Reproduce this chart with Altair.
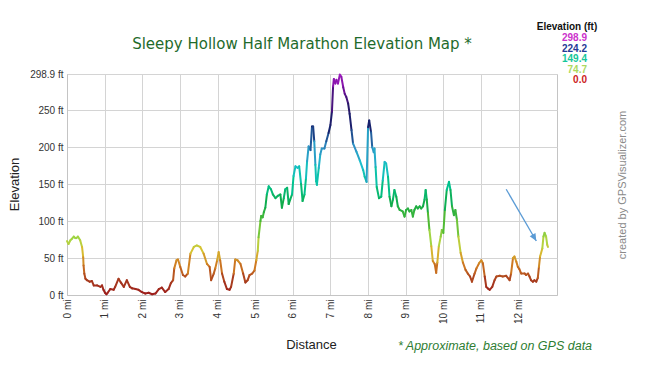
import altair as alt
import pandas as pd

miles = [0.00, 0.04, 0.09, 0.13, 0.18, 0.22, 0.25, 0.29, 0.35, 0.40, 0.43, 0.44, 0.46, 0.49, 0.53,
         0.60, 0.66, 0.71, 0.80, 0.89, 0.93, 0.97, 1.01, 1.05, 1.08, 1.15, 1.24, 1.28, 1.37, 1.43,
         1.51, 1.59, 1.67, 1.73, 1.82, 1.90, 1.99, 2.08, 2.17, 2.26, 2.35, 2.44, 2.52, 2.61, 2.70,
         2.76, 2.82, 2.85, 2.91, 2.95, 3.01, 3.08, 3.14, 3.21, 3.28, 3.37, 3.45, 3.54, 3.63, 3.72,
         3.79, 3.83, 3.90, 3.94, 3.99, 4.03, 4.07, 4.12, 4.18, 4.25, 4.32, 4.36, 4.43, 4.47, 4.53,
         4.61, 4.68, 4.74, 4.80, 4.85, 4.92, 4.98, 5.03, 5.07, 5.09, 5.14, 5.16, 5.20, 5.23, 5.27,
         5.31, 5.36, 5.42, 5.47, 5.54, 5.60, 5.67, 5.71, 5.76, 5.80, 5.85, 5.89, 5.93, 5.98, 6.02,
         6.07, 6.13, 6.17, 6.22, 6.26, 6.31, 6.35, 6.38, 6.42, 6.47, 6.51, 6.54, 6.57, 6.60, 6.62,
         6.64, 6.69, 6.73, 6.77, 6.84, 6.89, 6.95, 7.00, 7.04, 7.07, 7.09, 7.13, 7.16, 7.20, 7.25,
         7.29, 7.34, 7.38, 7.42, 7.47, 7.51, 7.56, 7.60, 7.69, 7.78, 7.87, 7.91, 7.96, 8.00, 8.03,
         8.08, 8.11, 8.15, 8.17, 8.20, 8.23, 8.29, 8.35, 8.39, 8.44, 8.48, 8.53, 8.57, 8.62, 8.66,
         8.70, 8.75, 8.79, 8.84, 8.92, 8.97, 9.01, 9.06, 9.10, 9.15, 9.19, 9.23, 9.28, 9.32, 9.37,
         9.41, 9.46, 9.50, 9.53, 9.56, 9.59, 9.63, 9.68, 9.72, 9.77, 9.81, 9.84, 9.88, 9.93, 9.96,
         10.00, 10.04, 10.09, 10.15, 10.19, 10.23, 10.28, 10.32, 10.36, 10.40, 10.46, 10.52, 10.59,
         10.65, 10.71, 10.76, 10.83, 10.88, 10.95, 11.01, 11.05, 11.10, 11.14, 11.18, 11.23, 11.30,
         11.36, 11.41, 11.50, 11.58, 11.67, 11.76, 11.80, 11.85, 11.89, 11.94, 11.98, 12.02, 12.07,
         12.16, 12.20, 12.25, 12.29, 12.33, 12.38, 12.42, 12.47, 12.51, 12.54, 12.57, 12.63, 12.66,
         12.69, 12.73, 12.76, 12.78]
elevation = [73, 69, 74, 76, 79, 77, 77, 79, 74, 65, 51, 40, 29, 22, 20,
             18, 19, 13, 13, 11, 13, 7, 3, 1, 3, 8, 7, 11, 22, 17,
             11, 20, 11, 9, 8, 7, 4, 2, 3, 1, 2, 8, 10, 4, 8,
             16, 20, 36, 47, 48, 38, 27, 25, 29, 56, 65, 67, 65, 56, 42,
             38, 20, 29, 36, 47, 58, 47, 29, 18, 8, 7, 11, 29, 48, 47,
             42, 29, 17, 20, 27, 29, 33, 47, 60, 78, 100, 107, 105, 112, 118,
             136, 147, 143, 136, 131, 134, 136, 118, 131, 143, 145, 123, 129, 136, 161,
             174, 172, 174, 150, 127, 136, 158, 181, 201, 196, 228, 228, 208, 176, 154,
             149, 172, 190, 198, 198, 208, 219, 230, 248, 282, 292, 286, 291, 286, 298,
             295, 281, 272, 268, 259, 245, 223, 205, 194, 182, 169, 160, 153, 227, 236,
             220, 200, 193, 198, 173, 146, 131, 133, 155, 180, 178, 160, 133, 120, 129,
             142, 133, 120, 115, 113, 106, 115, 117, 113, 115, 106, 115, 120, 117, 120,
             117, 120, 129, 142, 129, 111, 88, 66, 46, 42, 30, 44, 66, 79, 88,
             84, 115, 142, 153, 142, 120, 108, 115, 102, 79, 57, 44, 34,
             29, 25, 18, 29, 36, 43, 47, 43, 25, 11, 9, 7, 11,
             20, 25, 26, 25, 26, 20, 29, 50, 52, 45, 38, 35, 29,
             29, 27, 29, 25, 20, 18, 20, 18, 23, 38, 52, 63, 79,
             84, 79, 68, 65]

x_ticks = list(range(0, 13))
y_ticks = [0, 50, 100, 150, 200, 250, 298.9]
legend_labels = ["298.9", "224.2", "149.4", "74.7", "0.0"]
arrow_x = [11.67, 12.47]
arrow_y = [143, 73]

# ---- styles ----
color_stops = [0, 20, 40, 60, 74.7, 100, 125, 149.4, 175, 200, 224.2, 255, 280, 298.9]
color_range = ["#9c1c1c", "#a83c1e", "#cf7a22", "#d8c232", "#a9d744", "#4fba34", "#10ab4a",
               "#00c493", "#1cbfcc", "#2f8fc4", "#14236e", "#2a1868", "#7a0fa0", "#a21fc2"]
legend_colors = ["#cc33cc", "#263a96", "#14c79a", "#acd95e", "#cc2222"]
legend_rows = [-36, -25, -15, -4, 6]

seg = pd.DataFrame({"mi": miles, "ft": elevation})
seg["mi2"] = seg["mi"].shift(-1)
seg["ft2"] = seg["ft"].shift(-1)
seg = seg.dropna()
seg["mid"] = (seg["ft"] + seg["ft2"]) / 2

xscale = alt.Scale(domain=[0, 13.02], nice=False, zero=False)
yscale = alt.Scale(domain=[0, 298.9], nice=False)

x_axis = alt.Axis(values=x_ticks, labelExpr="datum.value + ' mi'", labelAngle=270,
                  title="Distance", titleX=244, titleY=49, titleBaseline="middle",
                  titleFontSize=13, titleFontWeight="normal", titleFont="Liberation Sans",
                  titleColor="#222222", ticks=False, labelPadding=4, grid=True,
                  labelOverlap=False, labelFontSize=10, labelFont="Liberation Sans",
                  labelColor="#333333", domainColor="#c4c4c4", gridColor="#d4d4d4")
y_axis = alt.Axis(values=y_ticks, labelExpr="datum.value + ' ft'", title="Elevation",
                  titleX=-53, titleY=110, titleAngle=270, titleAlign="center",
                  titleBaseline="middle", titleFontSize=13, titleFontWeight="normal",
                  titleFont="Liberation Sans", titleColor="#222222", ticks=False,
                  labelOverlap=False, labelPadding=4, labelFontSize=10,
                  labelFont="Liberation Sans", labelColor="#333333", grid=True,
                  domainColor="#c4c4c4", gridColor="#d4d4d4")

profile = alt.Chart(seg).mark_rule(strokeWidth=2, strokeCap="round").encode(
    x=alt.X("mi:Q", scale=xscale, axis=x_axis),
    x2="mi2:Q",
    y=alt.Y("ft:Q", scale=yscale, axis=y_axis),
    y2="ft2:Q",
    color=alt.Color("mid:Q", scale=alt.Scale(domain=color_stops, range=color_range,
                                             interpolate="rgb"), legend=None),
)

arrow_df = pd.DataFrame({"x": [arrow_x[0]], "y": [arrow_y[0]], "x2": [arrow_x[1]], "y2": [arrow_y[1]]})
arrow_line = alt.Chart(arrow_df).mark_rule(color="#5b9bd5", strokeWidth=1.3).encode(
    x=alt.X("x:Q", scale=xscale, axis=x_axis), x2="x2:Q",
    y=alt.Y("y:Q", scale=yscale, axis=y_axis), y2="y2:Q")
arrow_head = alt.Chart(arrow_df).mark_point(
    shape="M0,0 L-0.45,1 L0.45,1 Z", filled=True, size=220, angle=150, opacity=1,
    color="#5b9bd5").encode(x=alt.X("x2:Q", scale=xscale, axis=x_axis),
                            y=alt.Y("y2:Q", scale=yscale, axis=y_axis))


def label(text, x, y, **kw):
    return alt.Chart(pd.DataFrame({"t": [text]})).mark_text(**kw).encode(
        x=alt.value(x), y=alt.value(y), text="t:N")


title = label("Sleepy Hollow Half Marathon Elevation Map *", 235, -30, font="DejaVu Sans",
              fontSize=15, color="#1f6b2c", align="center", baseline="middle")
legend_head = label("Elevation (ft)", 500, -47, font="Liberation Sans", fontSize=10,
                    fontWeight="bold", color="#111111", align="center", baseline="middle")
legend_txt = [label(t, 520, yy, font="Liberation Sans", fontSize=10, fontWeight="bold",
                    color=c, align="right", baseline="middle")
              for t, yy, c in zip(legend_labels, legend_rows, legend_colors)]
watermark = label("created by GPSVisualizer.com", 556, 111, font="Liberation Sans", fontSize=11,
                  color="#8a8a8a", angle=270, align="center", baseline="middle")
footnote = label("* Approximate, based on GPS data", 428, 272, font="Liberation Sans",
                 fontSize=12.5, fontStyle="italic", color="#2e7d32", align="center",
                 baseline="middle")

chart = alt.layer(profile, arrow_line, arrow_head, title, legend_head, *legend_txt, watermark,
                  footnote).properties(
    width=490, height=221,
    padding={"left": 67, "top": 74, "right": 108, "bottom": 80},
    autosize=alt.AutoSizeParams(type="none"),
    background="white",
).configure_view(stroke="#c4c4c4", strokeWidth=1)

chart.save("out.html", embed_options={"renderer": "svg", "actions": False})
